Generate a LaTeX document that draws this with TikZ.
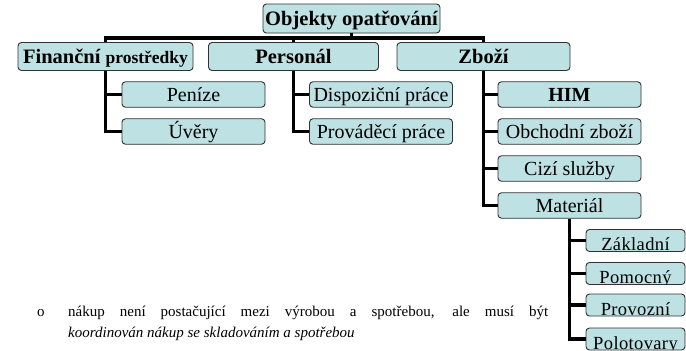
\documentclass[tikz,border=0pt]{standalone}
\usepackage{fontspec}
\setmainfont{Liberation Serif}
\definecolor{boxfill}{RGB}{190,225,228}
\definecolor{boxline}{RGB}{50,50,50}
\begin{document}
\begin{tikzpicture}[x=1pt,y=-1pt,
  box/.style={draw=boxline, fill=boxfill, line width=0.9pt, rounded corners=3.5pt,
              inner sep=0pt, text height=13pt, text depth=0pt},
  headbox/.style={box, font=\bfseries\fontsize{20.5}{24}\selectfont, minimum height=28pt},
  itembox/.style={box, font=\fontsize{20}{24}\selectfont, minimum width=143pt, minimum height=25.5pt},
  leafbox/.style={box, minimum width=99pt, minimum height=22pt},
  leaftext/.style={inner sep=0pt, font=\fontsize{18.5}{21}\selectfont\addfontfeatures{LetterSpace=2}},
  conn/.style={line width=3.5pt, draw=black},
  note/.style={inner sep=0pt, font=\fontsize{15}{18}\selectfont, anchor=base west}
]
\useasboundingbox (0,0) rectangle (686,351);

% root and first level
\node[headbox, minimum width=177pt, minimum height=29pt] (top) at (351.5,18.5) {Objekty opatřování};
\node[headbox, minimum width=175pt] (fin) at (105.5,56.5)
  {Finanční {\fontsize{17.5}{20}\selectfont prostředky}};
\node[headbox, minimum width=170pt] (per) at (293.5,56.5) {Personál};
\node[headbox, minimum width=173pt] (zbo) at (483.5,56.5) {Zboží};
\coordinate (bus) at (0,38);

% second level
\node[itembox] (pen) at (193.5,94.5) {Peníze};
\node[itembox] (uve) at (193.5,131.5) {Úvěry};
\node[itembox] (dis) at (381,94.5) {Dispoziční práce};
\node[itembox] (pro) at (381,131.5) {Prováděcí práce};
\node[itembox, font=\bfseries\fontsize{20}{24}\selectfont] (him) at (569.5,94.5) {HIM};
\node[itembox] (obc) at (569.5,131.5) {Obchodní zboží};
\node[itembox] (ciz) at (569.5,168.5) {Cizí služby};
\node[itembox] (mat) at (569.5,205.5) {Materiál};

% third level: labels sit low and are clipped to the box interior
\foreach \nm/\yy/\txt in {zak/240.5/Základní, pom/273.5/Pomocný, prv/305/Provozní, pol/339/Polotovary}{
  \node[leafbox] (\nm) at (635.5,\yy) {};
  \begin{scope}
    \clip ([xshift=0.8pt,yshift=0.8pt]\nm.south west) rectangle ([xshift=-0.8pt,yshift=-0.8pt]\nm.north east);
    \node[leaftext, anchor=base] (\nm t) at ([yshift=1pt]\nm.south) {\txt};
  \end{scope}
}

% connectors
\draw[conn] (top.south) -- (top.south |- bus);
\draw[conn] (fin.north) -- (fin.north |- bus) -- (zbo.north |- bus) -- (zbo.north);
\draw[conn] (per.north) -- (per.north |- bus);

\draw[conn] (fin.south) |- (uve.west);
\draw[conn] (fin.south |- pen.west) -- (pen.west);

\draw[conn] (per.south) |- (pro.west);
\draw[conn] (per.south |- dis.west) -- (dis.west);

\draw[conn] (zbo.south) |- (mat.west);
\draw[conn] (zbo.south |- him.west) -- (him.west);
\draw[conn] (zbo.south |- obc.west) -- (obc.west);
\draw[conn] (zbo.south |- ciz.west) -- (ciz.west);

\draw[conn] (mat.south) |- (pol.west);
\draw[conn] (mat.south |- zak.west) -- (zak.west);
\draw[conn] (mat.south |- pom.west) -- (pom.west);
\draw[conn] (mat.south |- prv.west) -- (prv.west);

% note below the chart
\node[note] (bul) at (37,316) {o};
\node[note] (l1) at (68,316)
  {\makebox[480pt][s]{nákup není postačující mezi výrobou a spotřebou, ale musí být}};
\node[note, font=\itshape\fontsize{15}{18}\selectfont] (l2) at (68,337)
  {koordinován nákup se skladováním a spotřebou};
\end{tikzpicture}
\end{document}
